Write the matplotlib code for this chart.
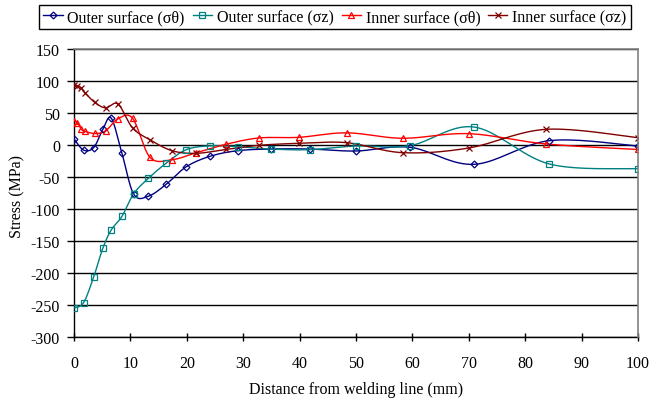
import numpy as np
import matplotlib
matplotlib.use('Agg')
import matplotlib.pyplot as plt
from matplotlib.lines import Line2D

plt.rcParams['font.family'] = ['Liberation Serif', 'DejaVu Serif']
plt.rcParams['font.size'] = 11.5
plt.rcParams['axes.unicode_minus'] = False

# distances (mm)
x_outer = [0, 1.7, 3.5, 5.1, 6.6, 8.5, 10.6, 13.2, 16.4, 19.9, 24.1, 29.0,
           34.9, 41.8, 50.0, 59.6, 70.9, 84.3, 100]
x_inner = [0, 0.6, 1.3, 1.9, 3.7, 5.6, 7.8, 10.4, 13.5, 17.4, 21.7, 26.9,
           32.8, 39.9, 48.4, 58.3, 70.0, 83.7, 100]

# stresses (MPa)
outer_theta = [9.6, -8, -4, 24.3, 42, -13, -77, -80, -61, -34, -17.7, -8.9,
               -6.3, -6.3, -9.4, -3.6, -30.2, 6.8, -1.6]
outer_z = [-254.7, -246.4, -205.8, -161.5, -132.8, -111.5, -76, -52, -28, -7.3,
           -1.3, -2.6, -6.3, -7.3, -1.6, -1, 28.1, -29.7, -37]
inner_theta = [38, 35, 24.5, 21.5, 18, 22, 41, 41.6, -19.5, -23, -12, 1,
               11, 12, 19, 10.5, 17.7, 1.6, -7]
inner_z = [94.5, 92.5, 89, 82, 66.5, 58, 64, 26.5, 8, -9, -13, -7,
           -0.5, 2.6, 3.6, -12, -4.7, 24.5, 11.5]

labels = ['Outer surface (σθ)', 'Outer surface (σz)',
          'Inner surface (σθ)', 'Inner surface (σz)']


def smooth(x, y, n=20):
    # excel style smoothed line (bezier through the points)
    x = np.asarray(x, float)
    y = np.asarray(y, float)
    px = np.concatenate([[x[0]], x, [x[-1]]])
    py = np.concatenate([[y[0]], y, [y[-1]]])
    t = np.linspace(0, 1, n)[:, None]
    segs = []
    for i in range(len(x) - 1):
        p0 = np.array([px[i], py[i]])
        p1 = np.array([px[i + 1], py[i + 1]])
        p2 = np.array([px[i + 2], py[i + 2]])
        p3 = np.array([px[i + 3], py[i + 3]])
        c1 = p1 + (p2 - p0) / 6
        c2 = p2 - (p3 - p1) / 6
        b = ((1 - t) ** 3) * p1 + 3 * ((1 - t) ** 2) * t * c1 + 3 * (1 - t) * t ** 2 * c2 + t ** 3 * p2
        segs.append(b)
    b = np.vstack(segs)
    return b[:, 0], b[:, 1]


fig = plt.figure(figsize=(6.52, 4.02), dpi=100)
ax = fig.add_axes([74 / 652, 1 - 338 / 402, 564 / 652, 288 / 402])

series = [
    (x_outer, outer_theta, '#000080', 'D', 3.5),
    (x_outer, outer_z, '#008080', 's', 4),
    (x_inner, inner_theta, '#FF0000', '^', 5),
    (x_inner, inner_z, '#800000', 'x', 5),
]
handles = []
for (xs, ys, c, m, ms), lab in zip(series, labels):
    sx, sy = smooth(xs, ys)
    ax.plot(sx, sy, color=c, lw=1, zorder=3)
    ax.plot(xs, ys, ls='none', marker=m, ms=ms, mfc='none', mec=c, mew=0.9, zorder=4)
    handles.append(Line2D([], [], color=c, lw=1, marker=m, ms=ms, mfc='none', mec=c, mew=0.9))

ax.set_xlim(0, 100)
ax.set_ylim(-300, 150)
ax.set_xticks(np.arange(0, 101, 10))
ax.set_yticks(np.arange(-300, 151, 50))
ax.yaxis.grid(True, color='black', lw=1)
ax.set_axisbelow(True)
for s in ['top', 'right']:
    ax.spines[s].set_color('#808080')
    ax.spines[s].set_linewidth(1.2)
    ax.spines[s].set_zorder(5)
for s in ['left', 'bottom']:
    ax.spines[s].set_color('black')
    ax.spines[s].set_linewidth(1)
ax.tick_params(axis='y', direction='out', length=5, width=1, pad=5, labelsize=11.5)
ax.tick_params(axis='x', direction='inout', length=6, width=1, pad=10, labelsize=11.5)

ax.set_xlabel('Distance from welding line (mm)', fontsize=11.5)
ax.set_ylabel('Stress (MPa)', fontsize=11.5)
ax.xaxis.set_label_coords((356 - 74) / 564, -(382 - 338) / 288)
ax.yaxis.set_label_coords((25 - 74) / 564, 0.49)

leg = fig.legend(handles, labels, ncol=4, loc='upper center',
                 bbox_to_anchor=(335 / 652, 1 - 6 / 402), fontsize=11.5,
                 frameon=True, fancybox=False, framealpha=1, edgecolor='black',
                 handlelength=1.2, handletextpad=0.3, columnspacing=0.5,
                 borderpad=0.25, borderaxespad=0)
leg.get_frame().set_linewidth(1)

fig.savefig('out.png', dpi=100)
